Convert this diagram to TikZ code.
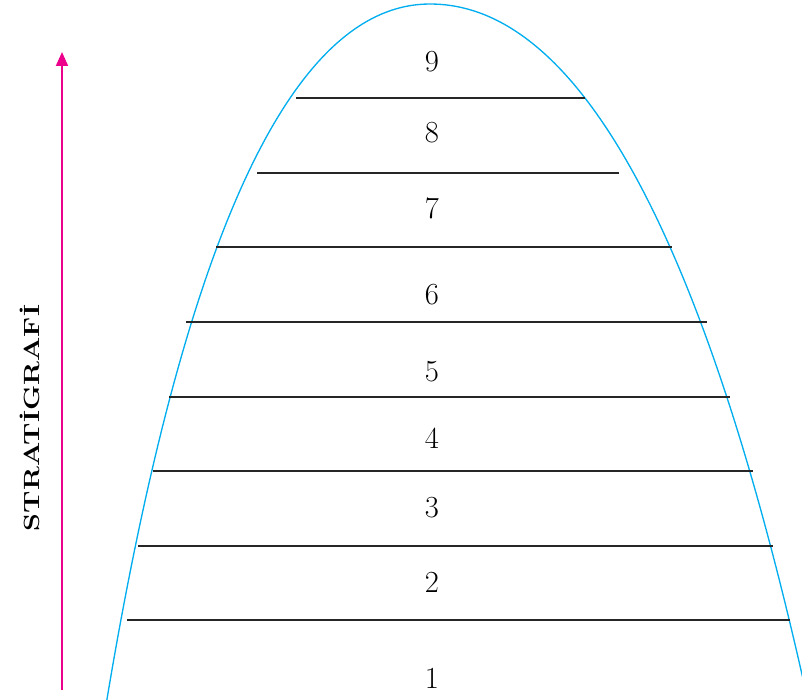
\documentclass[tikz,border=0pt]{standalone}
\usepackage{graphicx}
\usepackage{xcolor}
\usepackage{tikz}
\usetikzlibrary{arrows.meta}
\definecolor{stratpink}{RGB}{236,0,140}
\definecolor{stratblue}{RGB}{0,174,239}

\begin{document}
\begin{tikzpicture}[x=0.75pt, y=-0.75pt,
  layerline/.style={line width=1pt, color=black!85},
  layernum/.style={font=\fontsize{23}{26}\selectfont, inner sep=0pt}]
\useasboundingbox (0,0) rectangle (802,699);
% bell-shaped outline (left half, then right half)
\draw[line width=1pt, color=stratblue]
  plot[smooth, samples=60, domain=26.5:0, variable=\t]
    ({430-15.7*\t+0.1308*\t*\t}, {4+\t*\t})
  -- plot[smooth, samples=60, domain=0:26.5, variable=\t]
    ({430+16.95*\t-0.0998*\t*\t}, {4+\t*\t});
% layer boundaries
\foreach \yy/\xa/\xb in {98/296/585, 173/257/619, 247/216/672, 322/186/707,
    397/169/730, 471/153/753, 546/138/773, 620/127/790}
  \draw[layerline] (\xa,\yy) -- (\xb,\yy);
% layer numbers
\foreach \n/\yy in {1/678, 2/582, 3/508, 4/438, 5/372, 6/295, 7/208, 8/133, 9/62}
  \node[layernum] (layer\n) at (432,\yy) {\n};
% stratigraphy arrow
\coordinate (arrowbot) at (62,690);
\coordinate (arrowtop) at (62,52);
\draw[line width=1.5pt, color=stratpink, -{Triangle[width=9pt,length=10.5pt]}] (arrowbot) -- (arrowtop);
\node[rotate=90, inner sep=0pt] (stratlabel) at (30,418)
  {\scalebox{1.3}[1]{\fontsize{16.5}{19}\selectfont\bfseries STRATİGRAFİ}};
\end{tikzpicture}
\end{document}
